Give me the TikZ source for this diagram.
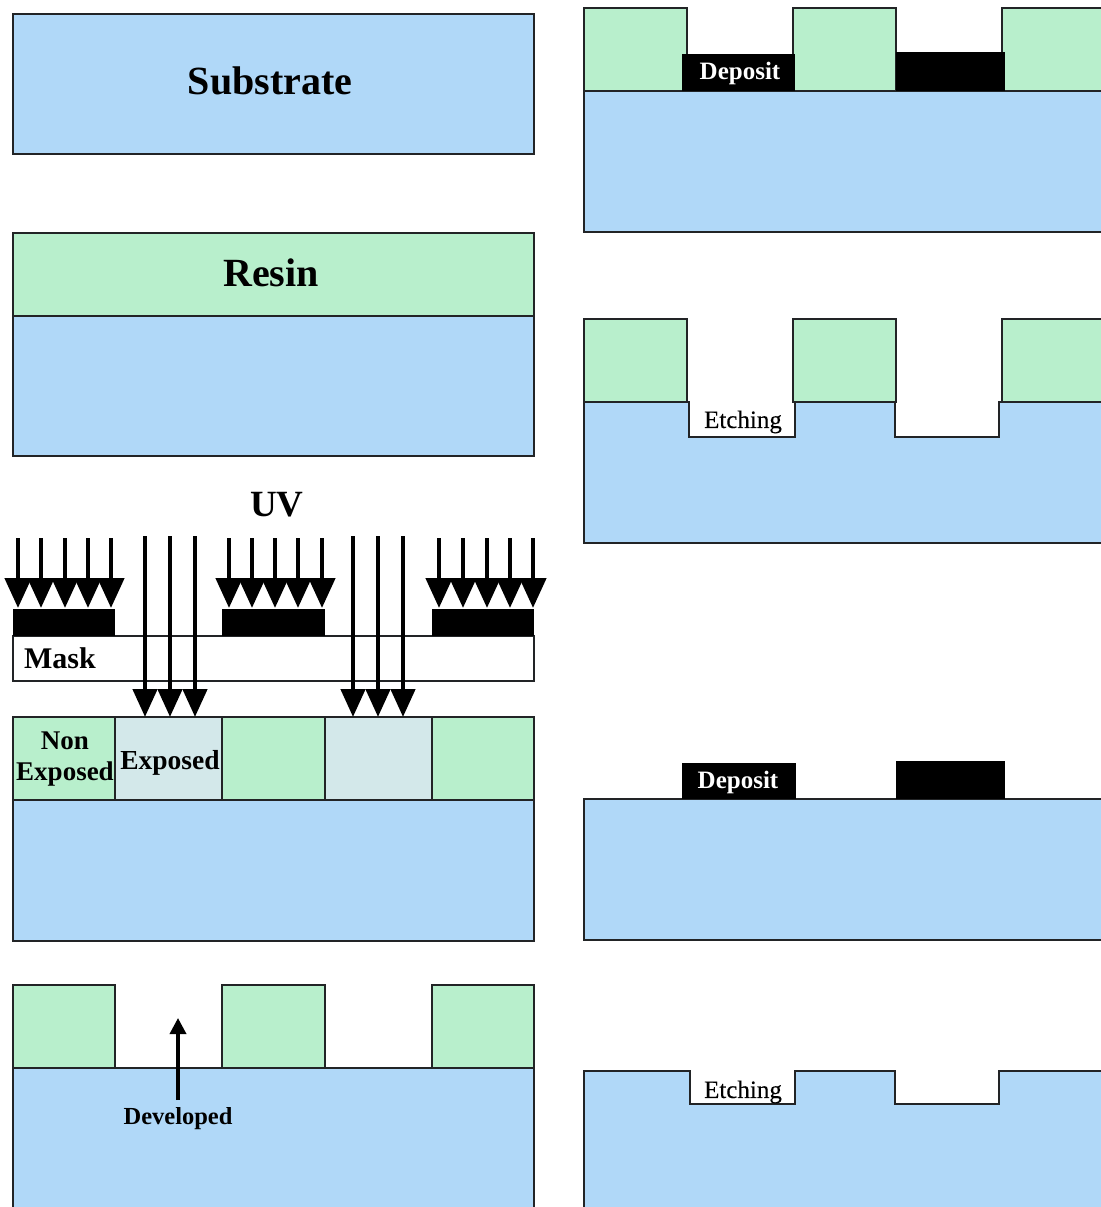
\documentclass[tikz,border=0pt]{standalone}
\usepackage{fontspec}
\setmainfont{Liberation Serif}
\newfontfamily\etchfont[FakeBold=0.25]{Liberation Serif}
\usetikzlibrary{arrows.meta}
\definecolor{subblue}{HTML}{B0D8F8}
\definecolor{resgreen}{HTML}{B8EFCC}
\definecolor{expblue}{HTML}{D3E8EA}
\definecolor{edge}{HTML}{222426}
\newcommand{\fsz}[1]{\fontsize{#1}{#1}\selectfont}
\tikzset{
  x=1pt,y=-1pt,
  layer/.style={draw=edge,line width=2.4pt,line join=miter},
  substrate/.style={layer,fill=subblue},
  resin/.style={layer,fill=resgreen},
  exposedarea/.style={layer,fill=expblue},
  maskbody/.style={layer,fill=white},
  blackblock/.style={fill=black,draw=none},
  label/.style={inner sep=0pt,font=\bfseries,text=black},
  etchlabel/.style={inner sep=0pt,font=\etchfont,text=black},
  uvshort/.style={line width=4.6pt,-{Triangle[length=30pt,width=26pt]}},
  uvlong/.style={line width=4.6pt,-{Triangle[length=28pt,width=24pt]}},
  devarrow/.style={line width=3.5pt,-{Triangle[length=16pt,width=16pt]}},
}
\begin{document}
\begin{tikzpicture}
\useasboundingbox (0,0) rectangle (1100,1207);
\fill[white] (0,0) rectangle (1100,1207);
% Left column: substrate
\draw[substrate] (13,14) rectangle (534,154);
\node[label] (substrate) at (270,81) {\fsz{40}Substrate};
% Resin
\draw[substrate] (13,316) rectangle (534,456);
\draw[resin] (13,233) rectangle (534,316);
\node[label] (resinlabel) at (271,273) {\fsz{40}Resin};
% Exposure
\node[label] (uv) at (277,505) {\fsz{37}UV};
\draw[maskbody] (13,636) rectangle (534,681);
\fill[blackblock] (13,609) rectangle (115,636);
\fill[blackblock] (222,609) rectangle (325,636);
\fill[blackblock] (432,609) rectangle (534,636);
\node[label] (mask) at (60,658) {\fsz{30}Mask};
\draw[substrate] (13,800) rectangle (534,941);
\draw[resin] (13,717) rectangle (115,800);
\draw[exposedarea] (115,717) rectangle (222,800);
\draw[resin] (222,717) rectangle (325,800);
\draw[exposedarea] (325,717) rectangle (432,800);
\draw[resin] (432,717) rectangle (534,800);
\node[label,align=center,font=\bfseries\fontsize{27}{30.5}\selectfont] (nonexposed) at (65,759) {Non\\Exposed};
\node[label] (exposed) at (170,763) {\fsz{27.5}Exposed};
% UV arrows
\foreach \n/\xx in {a1/18,a2/41,a3/65,a4/88,a5/111,b1/229,b2/252,b3/275,b4/298,b5/322,c1/439,c2/463,c3/487,c4/510,c5/533}{
  \coordinate (s\n) at (\xx,538);
  \coordinate (e\n) at (\xx,608);
  \draw[uvshort] (s\n) -- (e\n);
}
\foreach \n/\xx in {d1/145,d2/170,d3/195,f1/353,f2/378,f3/403}{
  \coordinate (s\n) at (\xx,536);
  \coordinate (e\n) at (\xx,717);
  \draw[uvlong] (s\n) -- (e\n);
}
% Developed
\draw[substrate] (13,1068) rectangle (534,1212);
\draw[resin] (13,985) rectangle (115,1068);
\draw[resin] (222,985) rectangle (325,1068);
\draw[resin] (432,985) rectangle (534,1068);
\node[label] (developed) at (178,1119) {\fsz{24.5}Developed};
\coordinate (devtip) at (178,1018);
\coordinate (devstart) at (178,1100);
\draw[devarrow] (devstart) -- (devtip);
% Right column 1
\draw[substrate] (584,91) rectangle (1106,232);
\draw[resin] (584,8) rectangle (687,91);
\draw[resin] (793,8) rectangle (896,91);
\draw[resin] (1002,8) rectangle (1106,91);
\fill[blackblock] (682,54) rectangle (795,91);
\fill[blackblock] (896,52) rectangle (1005,91);
\node[label,text=white] (deposit1) at (740,73) {\fsz{25}Deposit};
% Right column 2
\draw[substrate] (584,402) -- (689,402) -- (689,437) -- (795,437) -- (795,402) -- (895,402) -- (895,437) -- (999,437) -- (999,402) -- (1106,402) -- (1106,543) -- (584,543) -- cycle;
\draw[resin] (584,319) rectangle (687,402);
\draw[resin] (793,319) rectangle (896,402);
\draw[resin] (1002,319) rectangle (1106,402);
\node[etchlabel] (etching1) at (743,422) {\fsz{25}Etching};
% Right column 3
\draw[substrate] (584,799) rectangle (1106,940);
\fill[blackblock] (682,763) rectangle (796,799);
\fill[blackblock] (896,761) rectangle (1005,799);
\node[label,text=white] (deposit2) at (738,782) {\fsz{25}Deposit};
% Right column 4
\draw[substrate] (584,1071) -- (690,1071) -- (690,1104) -- (795,1104) -- (795,1071) -- (895,1071) -- (895,1104) -- (999,1104) -- (999,1071) -- (1106,1071) -- (1106,1212) -- (584,1212) -- cycle;
\node[etchlabel] (etching2) at (743,1092) {\fsz{25}Etching};
\end{tikzpicture}
\end{document}
